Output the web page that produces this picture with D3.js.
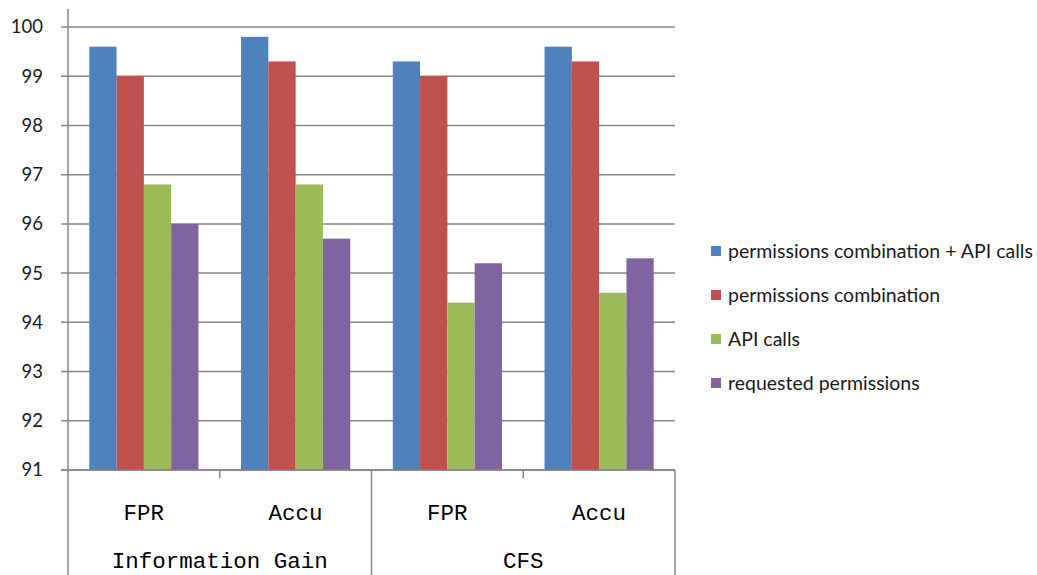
<!DOCTYPE html>
<html>
<head>
<meta charset="utf-8">
<script src="https://cdn.jsdelivr.net/npm/d3@7"></script>
<style>
  body { margin: 0; background: #fff; }
  svg { display: block; }
</style>
</head>
<body>
<svg></svg>
<script>
// data
let groups = ["Information Gain", "CFS"];
let measures = ["FPR", "Accu"];
let categories = ["IG-FPR", "IG-Accu", "CFS-FPR", "CFS-Accu"];
let seriesNames = ["permissions combination + API calls", "permissions combination", "API calls", "requested permissions"];
let permApi   = [99.6, 99.8, 99.3, 99.6];
let permComb  = [99.0, 99.3, 99.0, 99.3];
let apiCalls  = [96.8, 96.8, 94.4, 94.6];
let requested = [96.0, 95.7, 95.2, 95.3];
let yTicks = [91, 92, 93, 94, 95, 96, 97, 98, 99, 100];

let colors = ["#4f81bd", "#c0504d", "#9bbb59", "#8064a2"];
let series = [permApi, permComb, apiCalls, requested];

let width = 1037;
let height = 575;
let plotLeft = 68, plotRight = 675, plotTop = 27, plotBottom = 470;
let gridColor = "#868686";

let svg = d3.select("svg").attr("width", width).attr("height", height);

let x = d3.scaleBand().domain(categories).range([plotLeft, plotRight]);
let xInner = d3.scaleBand().domain(d3.range(seriesNames.length))
               .range([0, x.bandwidth()]).paddingOuter(0.78);
let y = d3.scaleLinear().domain([91, 100]).range([plotBottom, plotTop]);

// grid lines + y labels
svg.append("g")
   .selectAll("line").data(yTicks).join("line")
   .attr("x1", plotLeft - 7).attr("x2", plotRight)
   .attr("y1", d => y(d)).attr("y2", d => y(d))
   .attr("stroke", gridColor).attr("stroke-width", 1.5);

svg.append("g")
   .selectAll("text").data(yTicks).join("text")
   .attr("x", 43).attr("y", d => y(d))
   .attr("dy", "0.35em")
   .attr("text-anchor", "end")
   .attr("font-family", "Lato, 'Open Sans', sans-serif")
   .attr("font-size", 18.5)
   .attr("fill", "#1a1a1a")
   .text(d => d);

// bars
series.forEach((vals, si) => {
  svg.append("g")
     .selectAll("rect").data(vals).join("rect")
     .attr("x", (d, i) => x(categories[i]) + xInner(si))
     .attr("width", xInner.bandwidth())
     .attr("y", d => y(d))
     .attr("height", d => y(91) - y(d))
     .attr("fill", colors[si]);
});

// axes lines
let axisG = svg.append("g").attr("stroke", gridColor).attr("stroke-width", 1.5);
axisG.append("line").attr("x1", plotLeft).attr("x2", plotLeft).attr("y1", y(100) - 18).attr("y2", height);
axisG.append("line").attr("x1", plotLeft - 7).attr("x2", plotRight).attr("y1", plotBottom).attr("y2", plotBottom);
// short ticks inside each group
[categories[1], categories[3]].forEach(c => {
  axisG.append("line").attr("x1", x(c)).attr("x2", x(c)).attr("y1", plotBottom).attr("y2", plotBottom + 8);
});
// group separators
axisG.append("line").attr("x1", x(categories[2])).attr("x2", x(categories[2])).attr("y1", plotBottom).attr("y2", height);
axisG.append("line").attr("x1", plotRight).attr("x2", plotRight).attr("y1", plotBottom).attr("y2", height);

// category labels
let catFont = "'Liberation Mono', 'DejaVu Sans Mono', monospace";
svg.append("g")
   .selectAll("text").data(categories).join("text")
   .attr("x", d => x(d) + x.bandwidth() / 2)
   .attr("y", 520)
   .attr("text-anchor", "middle")
   .attr("font-family", catFont)
   .attr("font-size", 22.5)
   .attr("fill", "#000")
   .text((d, i) => measures[i % 2]);

svg.append("g")
   .selectAll("text").data(groups).join("text")
   .attr("x", (d, i) => (x(categories[i * 2]) + x(categories[i * 2 + 1]) + x.bandwidth()) / 2)
   .attr("y", 568)
   .attr("text-anchor", "middle")
   .attr("font-family", catFont)
   .attr("font-size", 22.5)
   .attr("fill", "#000")
   .text(d => d);

// legend
let legend = svg.append("g").attr("transform", "translate(711,251)");
let item = legend.selectAll("g").data(seriesNames).join("g")
   .attr("transform", (d, i) => `translate(0,${i * 44})`);
item.append("rect").attr("x", 0).attr("y", -5).attr("width", 10).attr("height", 10)
    .attr("fill", (d, i) => colors[i]);
item.append("text").attr("x", 17).attr("dy", "0.35em")
    .attr("font-family", "Lato, 'Open Sans', sans-serif")
    .attr("font-size", 19.5)
    .attr("fill", "#1a1a1a")
    .text(d => d);
</script>
</body>
</html>
